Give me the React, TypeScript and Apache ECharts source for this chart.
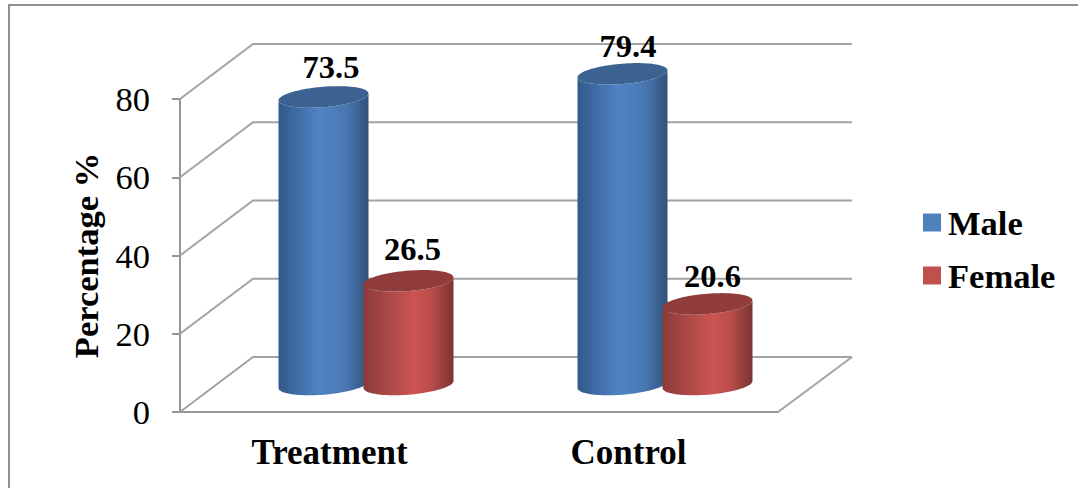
import React, { useEffect, useRef } from "react";
import * as echarts from "echarts";

const categories = ["Treatment", "Control"];
const maleValues = [73.5, 79.4];
const femaleValues = [26.5, 20.6];
const yTicks = [0, 20, 40, 60, 80];
const maleLabelNudge = [[7.5, -30], [5.5, -28]];
const femaleLabelNudge = [[4, -32], [5, -28]];

const SERIF = "'Liberation Serif', 'Times New Roman', serif";
const DEPTH_X = 73;
const DEPTH_Y = -55;
const BAR_SHIFT = 42.5;
const RX = 45;
const SHEAR = 3.5;
const RY = 10.2;

// Point on the sheared ellipse that forms a cylinder's cap or base.
const rim = (cx: number, cy: number, t: number) => [
  cx + RX * Math.cos(t),
  cy - SHEAR * Math.cos(t) + RY * Math.sin(t),
];

const cylinder = (
  shift: number,
  nudges: number[][],
  body: [string, string, string, string],
  capColor: string,
  peakAt: number,
) => (params: any, api: any) => {
  const cat = api.value(0);
  const val = api.value(1);
  const top = api.coord([cat, val]);
  const base = api.coord([cat, 0]);
  const cx = top[0] + shift + DEPTH_X / 2;
  const topY = top[1] + DEPTH_Y / 2;
  const baseY = base[1] + DEPTH_Y / 2;

  const outline: number[][] = [];
  for (let i = 0; i <= 48; i++) outline.push(rim(cx, baseY, (Math.PI * i) / 48));
  for (let i = 48; i >= 0; i--) outline.push(rim(cx, topY, (Math.PI * i) / 48));
  const cap: number[][] = [];
  for (let i = 0; i < 96; i++) cap.push(rim(cx, topY, (Math.PI * i) / 48));

  const nudge = nudges[params.dataIndex];
  return {
    type: "group",
    children: [
      {
        type: "polygon",
        shape: { points: outline },
        style: {
          fill: new echarts.graphic.LinearGradient(0, 0, 1, 0, [
            { offset: 0, color: body[0] },
            { offset: peakAt, color: body[1] },
            { offset: 0.74, color: body[2] },
            { offset: 1, color: body[3] },
          ]),
        },
      },
      { type: "polygon", shape: { points: cap }, style: { fill: capColor } },
      {
        type: "text",
        x: cx + nudge[0],
        y: topY + nudge[1],
        style: {
          text: api.value(1).toFixed(1),
          font: `bold 32.5px ${SERIF}`,
          fill: "#000",
          align: "center",
          verticalAlign: "middle",
        },
      },
    ],
  };
};

// Back wall and side wall rules, one polyline for each value tick.
const wallRule = (params: any, api: any) => {
  const y = api.coord([0, api.value(0)])[1];
  const { x, width } = params.coordSys;
  return {
    type: "polyline",
    shape: {
      points: [
        [x, y],
        [x + DEPTH_X, y + DEPTH_Y],
        [x + width + DEPTH_X + 1, y + DEPTH_Y],
      ],
    },
    style: { stroke: "#a3a3a3", lineWidth: 2, fill: "none" },
  };
};

const floorEdge = (params: any, api: any) => {
  const y = api.coord([0, 0])[1];
  const { x, width } = params.coordSys;
  return {
    type: "line",
    shape: { x1: x + width, y1: y, x2: x + width + DEPTH_X + 1, y2: y + DEPTH_Y },
    style: { stroke: "#a3a3a3", lineWidth: 2 },
  };
};

export default function App() {
  const ref = useRef<HTMLDivElement>(null);

  useEffect(() => {
    document.body.style.margin = "0";
    const chart = echarts.init(ref.current!, undefined, { renderer: "svg" });
    chart.setOption({
      animation: false,
      backgroundColor: "#fff",
      grid: { left: 180, top: 99, width: 598, height: 313 },
      xAxis: {
        type: "category",
        data: categories,
        axisLine: { lineStyle: { color: "#969696", width: 2 } },
        axisTick: { length: 9, lineStyle: { color: "#969696", width: 2 } },
        axisLabel: { margin: 23, color: "#000", fontFamily: SERIF, fontWeight: "bold", fontSize: 35 },
      },
      yAxis: {
        type: "value",
        min: 0,
        max: 80,
        interval: 20,
        name: "Percentage %",
        nameLocation: "middle",
        nameGap: 77,
        nameTextStyle: { color: "#000", fontFamily: SERIF, fontWeight: "bold", fontSize: 34.5 },
        splitLine: { show: false },
        axisLine: { show: true, lineStyle: { color: "#969696", width: 2 } },
        axisTick: { show: true, length: 8, lineStyle: { color: "#969696", width: 2 } },
        axisLabel: { margin: 30, color: "#000", fontFamily: SERIF, fontSize: 34.5 },
      },
      legend: {
        data: ["Male", "Female"],
        orient: "vertical",
        left: 918,
        top: 200,
        icon: "rect",
        itemWidth: 18,
        itemHeight: 18,
        itemGap: 18,
        textStyle: { color: "#000", fontFamily: SERIF, fontWeight: "bold", fontSize: 34.5, padding: [0, 0, 8, 2] },
        selectedMode: false,
      },
      graphic: [
        {
          type: "polyline",
          shape: { points: [[9, 488], [9, 5], [1078, 5]] },
          style: { stroke: "#8f8f8f", lineWidth: 2, fill: "none" },
          silent: true,
        },
      ],
      series: [
        { type: "custom", silent: true, data: yTicks.map((v) => [v]), encode: { y: 0 }, renderItem: wallRule, z: 1 },
        { type: "custom", silent: true, data: [[0]], renderItem: floorEdge, z: 1 },
        {
          name: "Male",
          type: "custom",
          itemStyle: { color: "#4f81bd" },
          data: maleValues.map((v, i) => [i, v]),
          encode: { x: 0, y: 1 },
          renderItem: cylinder(-BAR_SHIFT, maleLabelNudge, ["#32598a", "#4f83c4", "#4a78b3", "#31527c"], "#3b6291", 0.45),
          z: 3,
        },
        {
          name: "Female",
          type: "custom",
          itemStyle: { color: "#c0504d" },
          data: femaleValues.map((v, i) => [i, v]),
          encode: { x: 0, y: 1 },
          renderItem: cylinder(BAR_SHIFT, femaleLabelNudge, ["#8a3c3a", "#cc5553", "#bc4e4c", "#7c3432"], "#8f3c3a", 0.55),
          z: 4,
        },
      ],
    });
    return () => chart.dispose();
  }, []);

  return <div ref={ref} style={{ width: 1078, height: 488 }} />;
}
